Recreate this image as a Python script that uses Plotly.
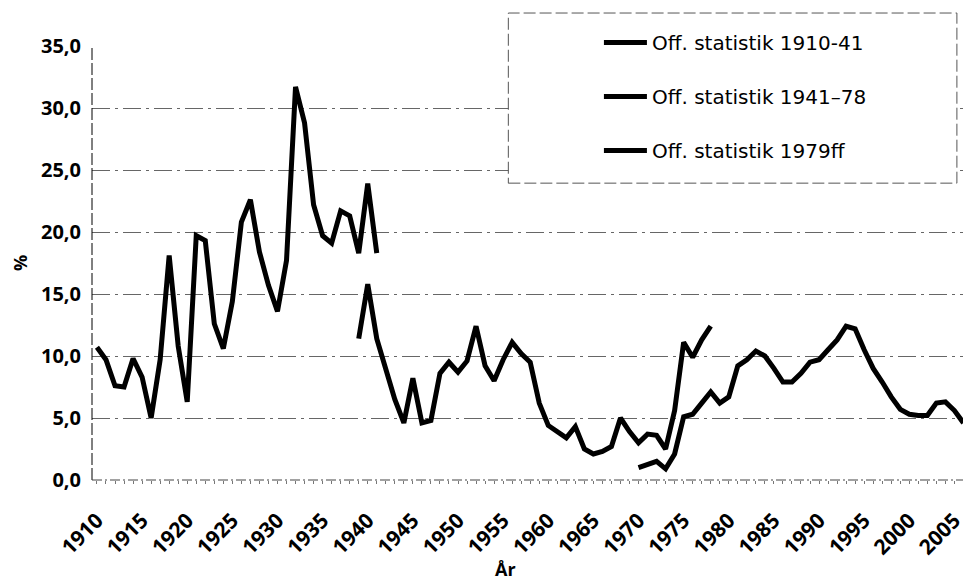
import plotly.graph_objects as go

# ---- data ----
years_1 = list(range(1910, 1942))
off_1910_41 = [10.7, 9.7, 7.6, 7.5, 9.8, 8.3, 5.0, 9.7, 18.1, 10.8,
               6.3, 19.7, 19.3, 12.6, 10.6, 14.4, 20.8, 22.6, 18.4, 15.7,
               13.6, 17.7, 31.7, 28.8, 22.2, 19.7, 19.1, 21.7, 21.3, 18.3,
               23.9, 18.3]

years_2 = list(range(1939, 1979))
off_1941_78 = [11.4, 15.8, 11.4, 9.1, 6.5, 4.6, 8.2, 4.6, 4.8, 8.6,
               9.5, 8.7, 9.6, 12.4, 9.2, 8.0, 9.7, 11.1, 10.2, 9.5,
               6.2, 4.4, 3.9, 3.4, 4.3, 2.5, 2.1, 2.3, 2.7, 5.0,
               3.9, 3.0, 3.7, 3.6, 2.5, 5.6, 11.1, 9.9, 11.3, 12.4]

years_3 = list(range(1970, 2007))
off_1979ff = [1.0, 1.3, 1.5, 0.9, 2.1, 5.1, 5.3, 6.2, 7.1, 6.2,
              6.7, 9.2, 9.7, 10.4, 10.0, 9.0, 7.9, 7.9, 8.6, 9.5,
              9.7, 10.5, 11.3, 12.4, 12.2, 10.5, 9.0, 7.9, 6.7, 5.7,
              5.3, 5.2, 5.2, 6.2, 6.3, 5.6, 4.6]

series_names = ["Off. statistik 1910-41", "Off. statistik 1941\u201378", "Off. statistik 1979ff"]
tick_years = list(range(1910, 2006, 5))
y_ticks = [0, 5, 10, 15, 20, 25, 30, 35]

# ---- figure ----
fig = go.Figure()
for i, (xs, ys) in enumerate([(years_1, off_1910_41), (years_2, off_1941_78), (years_3, off_1979ff)]):
    fig.add_trace(go.Scatter(
        x=xs, y=ys, mode="lines", name=series_names[i], legendgroup=f"g{i}",
        line=dict(color="black", width=5),
    ))

ytick_font = dict(family="Open Sans", size=20, color="black", weight="bold")
xtick_font = dict(family="Open Sans", size=21, color="black", weight="bold")
title_font = dict(family="Open Sans", size=18, color="black", weight="bold")

fig.update_layout(
    width=966, height=583,
    margin=dict(l=92, r=0, t=46, b=103),
    paper_bgcolor="white", plot_bgcolor="white",
    separators=",.",
    showlegend=True,
    legend=dict(
        x=0.582, y=1.053, xanchor="left", yanchor="top",
        font=dict(family="DejaVu Sans", size=20, color="black"),
        bgcolor="rgba(0,0,0,0)", borderwidth=0,
        tracegroupgap=25, itemwidth=43,
    ),
    xaxis=dict(
        range=[1909.45, 2005.95],
        tickmode="array", tickvals=tick_years,
        ticktext=[str(t) for t in tick_years],
        tickangle=-45, tickfont=xtick_font, ticklabelstandoff=23,
        ticklabelposition="outside left",
        ticklabeloverflow="allow",
        showgrid=False, zeroline=False, showline=False,
        ticks="", ticklen=0,
        minor=dict(ticks="outside", ticklen=3, tickcolor="#777", dtick=1, tick0=1910, showgrid=False),
    ),
    yaxis=dict(
        range=[0, 35], tickvals=y_ticks, tickformat=".1f",
        tickfont=ytick_font, ticks="", ticklabelstandoff=10,
        showgrid=True, gridcolor="#666", gridwidth=1, griddash="18px,5px,3px,5px",
        zeroline=False, showline=False,
        title=dict(text="%", font=title_font, standoff=8),
    ),
    annotations=[dict(
        text="År", xref="paper", yref="paper", x=0.475, y=-0.2373,
        xanchor="center", yanchor="bottom", showarrow=False, font=title_font,
    )],
)

# dashed axis lines and dashed legend box
fig.add_shape(type="line", xref="paper", yref="paper", x0=0, x1=0, y0=0, y1=1,
              line=dict(color="black", width=1, dash="12px,3px"), layer="above")
fig.add_shape(type="line", xref="paper", yref="paper", x0=0, x1=1, y0=0, y1=0,
              line=dict(color="#444", width=1, dash="10px,3px,2px,3px"), layer="above")
fig.add_shape(type="rect", xref="paper", yref="paper", x0=0.478, x1=0.993, y0=0.684, y1=1.076,
              line=dict(color="#555", width=1, dash="12px,4px"), fillcolor="white", layer="above")

fig.write_html("out.html", config={"displayModeBar": False},
               post_script="document.body.style.margin='0';")
